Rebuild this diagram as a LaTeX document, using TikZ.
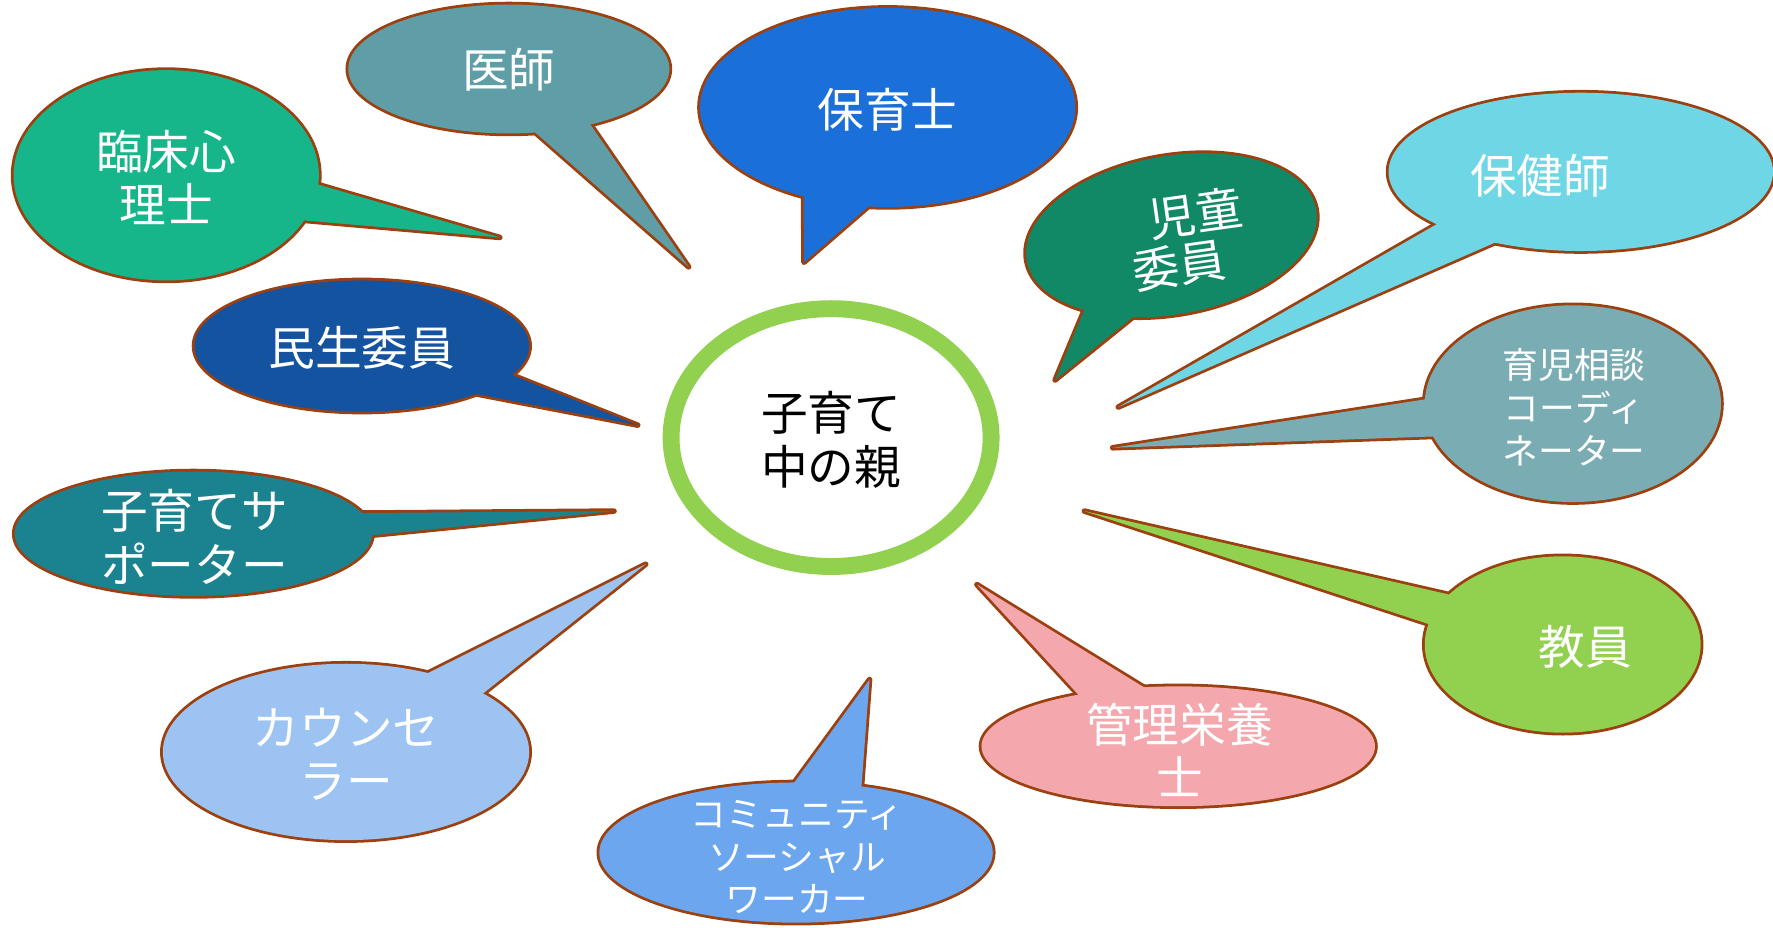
\documentclass[tikz,border=0pt]{standalone}
\usepackage{fontspec}
\setmainfont{Noto Sans CJK JP}
\definecolor{edge}{HTML}{9C4010}
\definecolor{cRin}{HTML}{17B68A}
\definecolor{cIshi}{HTML}{5F9EA6}
\definecolor{cHoiku}{HTML}{1A70D8}
\definecolor{cJido}{HTML}{118966}
\definecolor{cHoken}{HTML}{6FD6E6}
\definecolor{cIkuji}{HTML}{79ADB3}
\definecolor{cKyoin}{HTML}{92D050}
\definecolor{cKanri}{HTML}{F4A7AD}
\definecolor{cComm}{HTML}{6BA6EE}
\definecolor{cCouns}{HTML}{9DC3F2}
\definecolor{cSup}{HTML}{1B8390}
\definecolor{cMinsei}{HTML}{14539F}
\definecolor{ring}{HTML}{92D050}
% #1 colour, #2 cx, #3 cy, #4 rx, #5 ry, #6 angle 1, #7 angle 2, #8 tip coordinate
\newcommand{\spbubble}[8]{%
  \draw[outl] (#2,#3) ellipse ({#4} and {#5});
  \draw[outl] (#8) -- ({#2+0.97*#4*cos(#6)},{#3+0.97*#5*sin(#6)}) -- ({#2+0.97*#4*cos(#7)},{#3+0.97*#5*sin(#7)}) -- cycle;
  \fill[#1] (#2,#3) ellipse ({#4} and {#5});
  \fill[#1] (#8) -- ({#2+0.97*#4*cos(#6)},{#3+0.97*#5*sin(#6)}) -- ({#2+0.97*#4*cos(#7)},{#3+0.97*#5*sin(#7)}) -- cycle;
}
\begin{document}
\begin{tikzpicture}[x=0.02cm,y=-0.02cm,
  outl/.style={draw=edge,line width=2.8pt,line join=round},
  big/.style={text=white,align=center,font=\fontsize{23.5}{27}\selectfont,inner sep=0pt},
  small/.style={text=white,align=center,font=\fontsize{18}{21.5}\selectfont,inner sep=0pt}]
\useasboundingbox (0,0) rectangle (1568,820);

% tail tips
\coordinate (tRin) at (442,210);
\coordinate (tIshi) at (609,236);
\coordinate (tHoiku) at (711,232);
\coordinate (tJido) at (933,336);
\coordinate (tHoken) at (989,360);
\coordinate (tIkuji) at (984,396);
\coordinate (tKyoin) at (959,452);
\coordinate (tKanri) at (864,517);
\coordinate (tComm) at (769,601);
\coordinate (tCouns) at (571,499);
\coordinate (tSup) at (543,452);
\coordinate (tMinsei) at (564,376);

\spbubble{cRin}{147}{155}{135}{93}{4.5}{26}{tRin}
\spbubble{cIshi}{450}{61}{142}{57}{59}{81}{tIshi}
\spbubble{cHoiku}{785}{95}{166}{88}{95}{117.5}{tHoiku}
\begin{scope}[rotate around={10:(1036,208)}]
  \spbubble{cJido}{1036}{208}{130}{70}{110}{133}{tJido}
\end{scope}
\spbubble{cHoken}{1398}{152}{170}{70}{116}{139}{tHoken}
\spbubble{cIkuji}{1391}{357}{131}{87}{160}{183}{tIkuji}
\spbubble{cKyoin}{1382}{570}{122}{78}{193}{215}{tKyoin}
\spbubble{cKanri}{1042}{660}{174}{53}{239}{260.5}{tKanri}
\spbubble{cComm}{704}{754}{174}{62}{269}{290}{tComm}
\spbubble{cCouns}{306}{665}{162}{78}{296}{319}{tCouns}
\spbubble{cSup}{171}{472}{158}{55}{340}{362}{tSup}
\spbubble{cMinsei}{320}{306}{148}{58}{25.6}{47.6}{tMinsei}

% centre ring
\draw[ring,line width=8.5pt,fill=white] (735,387) ellipse (141.5 and 114);

% labels
\node[big] (lRin) at (147,157) {臨床心\\理士};
\node[big] (lIshi) at (450,62) {医師};
\node[big] (lHoiku) at (785,97) {保育士};
\node[big,rotate=8,font=\fontsize{23.5}{25}\selectfont] (lJido) at (1040,213) {\hspace*{1em}児童\\委員};
\node[big] (lHoken) at (1362,155) {保健師};
\node[small] (lIkuji) at (1392,360) {育児相談\\コーディ\\ネーター};
\node[big] (lKyoin) at (1402,572) {教員};
\node[big] (lKanri) at (1043,663) {管理栄養\\士};
\node[small] (lComm) at (705,758) {コミュニティ\\ソーシャル\\ワーカー};
\node[big] (lCouns) at (306,667) {カウンセ\\ラー};
\node[big] (lSup) at (172,475) {子育てサ\\ポーター};
\node[big] (lMinsei) at (320,308) {民生委員};
\node[big,text=black] (lCenter) at (735,389) {子育て\\中の親};
\end{tikzpicture}
\end{document}
